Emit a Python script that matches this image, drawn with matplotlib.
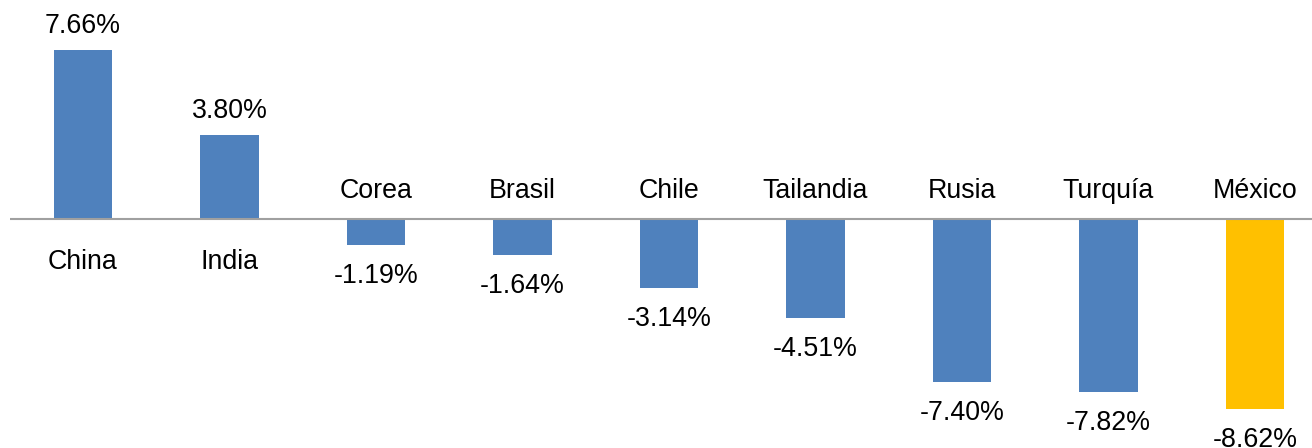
import matplotlib
matplotlib.use("Agg")
import matplotlib.pyplot as plt

categories = ["China", "India", "Corea", "Brasil", "Chile", "Tailandia", "Rusia", "Turquía", "México"]
values = [7.66, 3.80, -1.19, -1.64, -3.14, -4.51, -7.40, -7.82, -8.62]
value_labels = ["7.66%", "3.80%", "-1.19%", "-1.64%", "-3.14%", "-4.51%", "-7.40%", "-7.82%", "-8.62%"]
colors = ["#4F81BD"] * 8 + ["#FFC000"]

plt.rcParams['font.family'] = ['Liberation Sans', 'DejaVu Sans']

fig = plt.figure(figsize=(13.12, 4.48), dpi=100)
ax = fig.add_axes([10/1312, 0, 1 - 10/1312, 1])
x = list(range(len(categories)))
ax.bar(x, values, width=0.4, color=colors, zorder=2)
ax.axhline(0, color="#A0A0A0", linewidth=1.5, zorder=3)
ax.set_xlim(-0.498, 8.39)
ax.set_ylim(-10.38, 9.92)
ax.axis("off")

fs = 19.3
for i, (v, lab, cat) in enumerate(zip(values, value_labels, categories)):
    if v >= 0:
        ax.annotate(lab, (i, v), xytext=(0, 17), textcoords="offset pixels",
                    ha="center", va="baseline", fontsize=fs)
        ax.annotate(cat, (i, 0), xytext=(0, -50), textcoords="offset pixels",
                    ha="center", va="baseline", fontsize=fs)
    else:
        ax.annotate(lab, (i, v), xytext=(0, -38), textcoords="offset pixels",
                    ha="center", va="baseline", fontsize=fs, annotation_clip=False)
        ax.annotate(cat, (i, 0), xytext=(0, 21), textcoords="offset pixels",
                    ha="center", va="baseline", fontsize=fs)

fig.savefig("out.png", dpi=100)
